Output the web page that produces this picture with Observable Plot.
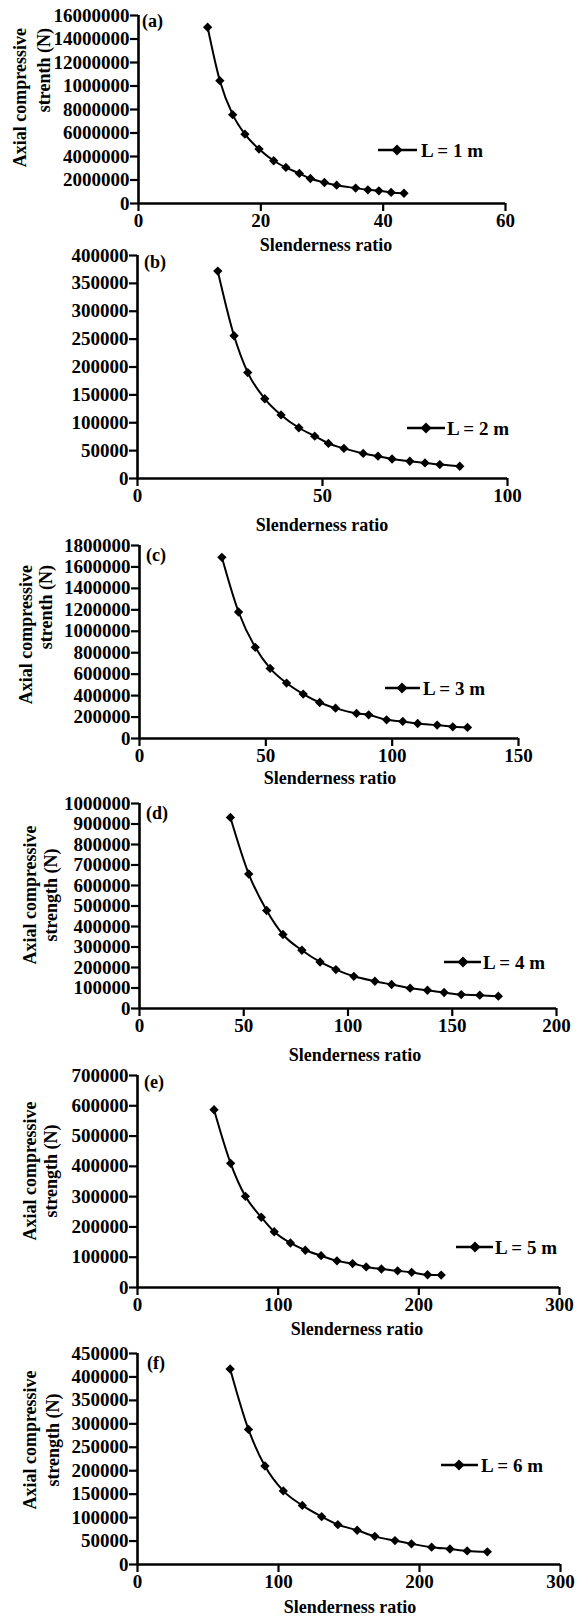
<!DOCTYPE html>
<html>
<head>
<meta charset="utf-8">
<script src="https://cdn.jsdelivr.net/npm/d3@7"></script>
<script src="https://cdn.jsdelivr.net/npm/@observablehq/plot@0.6"></script>
<style>
html, body { margin: 0; padding: 0; background: #fff; }
#chart { position: relative; width: 579px; height: 1616px; overflow: hidden; background: #fff; }
#chart svg.plotsvg { position: absolute; left: 0; }
#overlay { position: absolute; left: 0; top: 0; pointer-events: none; }
</style>
</head>
<body>
<div id="chart"></div>
<script>
// ---------- data ----------
const xA = [11.3, 13.3, 15.4, 17.4, 19.7, 22.1, 24.1, 26.3, 28.1, 30.4, 32.4, 35.5, 37.5, 39.3, 41.3, 43.4];
const yA = [15000000, 10450000, 7560000, 5900000, 4630000, 3640000, 3070000, 2560000, 2130000, 1790000, 1560000, 1310000, 1160000, 1080000, 940000, 870000];

const xB = [21.7, 26.1, 29.8, 34.4, 38.8, 43.6, 47.9, 51.6, 55.8, 61.0, 65.0, 68.8, 73.6, 77.7, 81.7, 87.1];
const yB = [372000, 256000, 190000, 143000, 114000, 91000, 76000, 63000, 54000, 45000, 40000, 35000, 31000, 28000, 25000, 22000];

const xC = [32.6, 39.2, 45.8, 51.7, 58.2, 64.8, 71.3, 77.6, 85.9, 90.7, 97.8, 104.2, 110.1, 117.8, 124.0, 129.8];
const yC = [1690000, 1180000, 850000, 654000, 517000, 414000, 336000, 283000, 234000, 221000, 174000, 159000, 140000, 125000, 109000, 103000];

const xD = [43.6, 52.4, 61.0, 68.8, 77.9, 86.6, 94.2, 102.8, 112.9, 120.9, 129.8, 138.1, 146.1, 154.3, 163.2, 172.1];
const yD = [932000, 656000, 478000, 361000, 284000, 227000, 190000, 157000, 133000, 117000, 99000, 89000, 78000, 68000, 65000, 60000];

const xE = [54.4, 66.2, 76.7, 88.0, 97.2, 108.7, 119.3, 130.5, 141.8, 152.9, 162.6, 173.4, 184.9, 194.9, 206.2, 215.9];
const yE = [587000, 410000, 301000, 232000, 184000, 147000, 123000, 105000, 88000, 79000, 68000, 61000, 55000, 50000, 42000, 41000];

const xF = [65.7, 78.7, 90.4, 103.4, 116.9, 130.6, 142.1, 155.8, 168.3, 182.6, 194.3, 208.6, 221.6, 233.8, 248.1];
const yF = [417000, 288000, 210000, 157000, 126000, 102000, 85000, 73000, 60000, 51000, 44000, 37000, 33000, 29000, 27000];

// tick values and tick labels
const xTicksA = [0, 20, 40, 60];
const xTicksB = [0, 50, 100];
const xTicksC = [0, 50, 100, 150];
const xTicksD = [0, 50, 100, 150, 200];
const xTicksE = [0, 100, 200, 300];
const xTicksF = [0, 100, 200, 300];

const yTicksA = [0, 2000000, 4000000, 6000000, 8000000, 10000000, 12000000, 14000000, 16000000];
const yLabelsA = ["0", "2000000", "4000000", "6000000", "8000000", "1000000", "12000000", "14000000", "16000000"];
const yTicksB = [0, 50000, 100000, 150000, 200000, 250000, 300000, 350000, 400000];
const yLabelsB = ["0", "50000", "100000", "150000", "200000", "250000", "300000", "350000", "400000"];
const yTicksC = [0, 200000, 400000, 600000, 800000, 1000000, 1200000, 1400000, 1600000, 1800000];
const yLabelsC = ["0", "200000", "400000", "600000", "800000", "1000000", "1200000", "1400000", "1600000", "1800000"];
const yTicksD = [0, 100000, 200000, 300000, 400000, 500000, 600000, 700000, 800000, 900000, 1000000];
const yLabelsD = ["0", "100000", "200000", "300000", "400000", "500000", "600000", "700000", "800000", "900000", "1000000"];
const yTicksE = [0, 100000, 200000, 300000, 400000, 500000, 600000, 700000];
const yLabelsE = ["0", "100000", "200000", "300000", "400000", "500000", "600000", "700000"];
const yTicksF = [0, 50000, 100000, 150000, 200000, 250000, 300000, 350000, 400000, 450000];
const yLabelsF = ["0", "50000", "100000", "150000", "200000", "250000", "300000", "350000", "400000", "450000"];

const panelLetters = ["(a)", "(b)", "(c)", "(d)", "(e)", "(f)"];
const legendLabels = ["L = 1 m", "L = 2 m", "L = 3 m", "L = 4 m", "L = 5 m", "L = 6 m"];
const xTitle = "Slenderness ratio";
const yTitles = [
  ["Axial compressive", "strenth (N)"],
  null,
  ["Axial compressive", "strenth (N)"],
  ["Axial compressive", "strength (N)"],
  ["Axial compressive", "strength (N)"],
  ["Axial compressive", "strength (N)"]
];

// ---------- layout (page pixels) ----------
const layout = [
  {fl: 138, fr: 505, ft: 15,   fb: 203,  xt: [326, 245],  let: [142, 21],   yt: {x: [20, 44], y: 28,   anchor: "end"},    lg: {x1: 378, x2: 417, d: 397, tx: 421, y: 150}},
  {fl: 137, fr: 507, ft: 255,  fb: 478,  xt: [322, 525],  let: [144, 262],  yt: null,                                      lg: {x1: 407, x2: 445, d: 426, tx: 447, y: 428}},
  {fl: 139, fr: 518, ft: 545,  fb: 738,  xt: [330, 778],  let: [146, 555],  yt: {x: [26, 46], y: 565,  anchor: "end"},    lg: {x1: 385, x2: 420, d: 402, tx: 423, y: 688}},
  {fl: 139, fr: 556, ft: 803,  fb: 1008, xt: [355, 1055], let: [146, 813],  yt: {x: [30, 51], y: 895,  anchor: "middle"}, lg: {x1: 444, x2: 481, d: 463, tx: 483, y: 962}},
  {fl: 137, fr: 559, ft: 1075, fb: 1287, xt: [357, 1329], let: [144, 1082], yt: {x: [30, 51], y: 1171, anchor: "middle"}, lg: {x1: 456, x2: 493, d: 475, tx: 495, y: 1247}},
  {fl: 137, fr: 560, ft: 1353, fb: 1564, xt: [350, 1607], let: [147, 1363], yt: {x: [30, 53], y: 1440, anchor: "middle"}, lg: {x1: 441, x2: 478, d: 459, tx: 481, y: 1465}}
];

const series = [
  {xs: xA, ys: yA, xTicks: xTicksA, yTicks: yTicksA, yLabels: yLabelsA},
  {xs: xB, ys: yB, xTicks: xTicksB, yTicks: yTicksB, yLabels: yLabelsB},
  {xs: xC, ys: yC, xTicks: xTicksC, yTicks: yTicksC, yLabels: yLabelsC},
  {xs: xD, ys: yD, xTicks: xTicksD, yTicks: yTicksD, yLabels: yLabelsD},
  {xs: xE, ys: yE, xTicks: xTicksE, yTicks: yTicksE, yLabels: yLabelsE},
  {xs: xF, ys: yF, xTicks: xTicksF, yTicks: yTicksF, yLabels: yLabelsF}
];

const FONT = '"Liberation Serif", "Times New Roman", Times, serif';
const W = 579;
const chart = document.getElementById("chart");

series.forEach((s, i) => {
  const L = layout[i];
  const data = s.xs.map((x, j) => ({x, y: s.ys[j]}));
  const labelMap = new Map(s.yTicks.map((t, j) => [t, s.yLabels[j]]));
  const mt = 12, mb = 30;
  const plot = Plot.plot({
    width: W,
    height: (L.fb - L.ft) + mt + mb,
    marginTop: mt,
    marginBottom: mb,
    marginLeft: L.fl,
    marginRight: W - L.fr,
    style: {fontFamily: FONT, fontSize: "19px", fontWeight: "bold", color: "#000", background: "transparent", overflow: "visible"},
    x: {domain: [s.xTicks[0], s.xTicks[s.xTicks.length - 1]]},
    y: {domain: [s.yTicks[0], s.yTicks[s.yTicks.length - 1]]},
    marks: [
      Plot.axisX({ticks: s.xTicks, tickSize: 8, tickPadding: 2, strokeWidth: 2.2, label: null, tickFormat: d => String(d)}),
      Plot.axisY({ticks: s.yTicks, tickSize: 8, tickPadding: 1, strokeWidth: 2.2, label: null, tickFormat: d => labelMap.get(d)}),
      Plot.ruleY([s.yTicks[0]], {strokeWidth: 2.6}),
      Plot.ruleX([s.xTicks[0]], {strokeWidth: 2.6}),
      Plot.line(data, {x: "x", y: "y", curve: "monotone-x", stroke: "#000", strokeWidth: 2}),
      Plot.dot(data, {x: "x", y: "y", symbol: "diamond2", r: 4.2, fill: "#000", stroke: "none"})
    ]
  });
  plot.classList.add("plotsvg");
  plot.style.top = (L.ft - mt) + "px";
  chart.appendChild(plot);
});

// ---------- overlay: titles, panel letters, legends ----------
const ov = d3.select(chart).append("svg")
  .attr("id", "overlay")
  .attr("width", W).attr("height", 1616)
  .style("font-family", FONT).style("font-weight", "bold").attr("fill", "#000");

layout.forEach((L, i) => {
  // x title
  ov.append("text").attr("x", L.xt[0]).attr("y", L.xt[1])
    .attr("text-anchor", "middle").attr("dominant-baseline", "central")
    .style("font-size", "18px").text(xTitle);
  // panel letter
  ov.append("text").attr("x", L.let[0]).attr("y", L.let[1])
    .attr("text-anchor", "start").attr("dominant-baseline", "central")
    .style("font-size", "18px").text(panelLetters[i]);
  // y title
  if (L.yt && yTitles[i]) {
    yTitles[i].forEach((line, k) => {
      ov.append("text")
        .attr("transform", `translate(${L.yt.x[k]},${L.yt.y}) rotate(-90)`)
        .attr("text-anchor", L.yt.anchor).attr("dominant-baseline", "central")
        .style("font-size", "18px").text(line);
    });
  }
  // legend
  const g = ov.append("g");
  g.append("line").attr("x1", L.lg.x1).attr("x2", L.lg.x2).attr("y1", L.lg.y).attr("y2", L.lg.y)
    .attr("stroke", "#000").attr("stroke-width", 2.6);
  const h = 5.5;
  g.append("path").attr("d", `M${L.lg.d},${L.lg.y - h}L${L.lg.d + h},${L.lg.y}L${L.lg.d},${L.lg.y + h}L${L.lg.d - h},${L.lg.y}Z`).attr("fill", "#000");
  g.append("text").attr("x", L.lg.tx).attr("y", L.lg.y)
    .attr("text-anchor", "start").attr("dominant-baseline", "central")
    .style("font-size", "19px").text(legendLabels[i]);
});
</script>
</body>
</html>
